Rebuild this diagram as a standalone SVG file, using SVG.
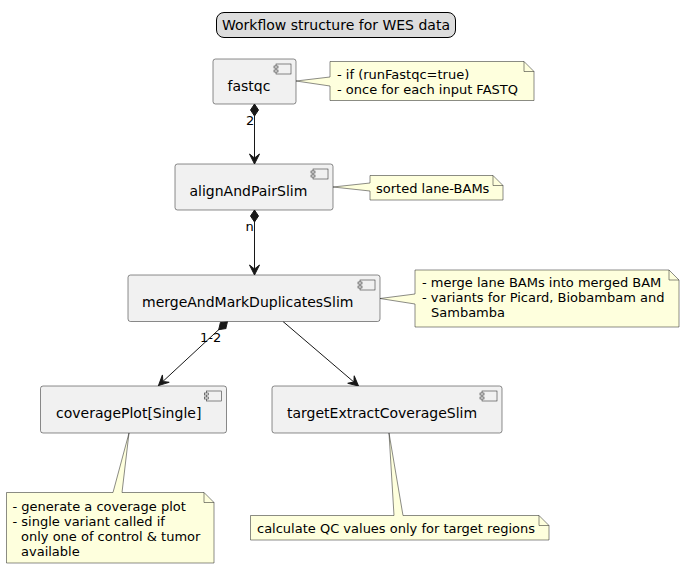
<svg xmlns="http://www.w3.org/2000/svg" width="685" height="569" viewBox="0 0 685 569">
<style>
  text { font-family: "DejaVu Sans", "Liberation Sans", sans-serif; fill: #000000; }
  .comp { fill: #F1F1F1; stroke: #181818; stroke-width: 0.5; }
  .icon { fill: #F1F1F1; stroke: #181818; stroke-width: 0.5; }
  .ct { font-size: 14px; }
  .note { fill: #FEFFDD; stroke: #181818; stroke-width: 0.5; }
  .fold { fill: none; stroke: #181818; stroke-width: 0.5; }
  .nt { font-size: 13px; }
  .lbl { font-size: 13px; }
  .edge { fill: none; stroke: #181818; stroke-width: 1; }
</style>
<defs>
  <marker id="arrow" markerUnits="userSpaceOnUse" markerWidth="12" markerHeight="12" refX="11" refY="6" orient="auto">
    <path d="M1,1 L11,6 L1,11 L5,6 Z" fill="#181818" stroke="#181818" stroke-width="1"/>
  </marker>
  <marker id="diamond" markerUnits="userSpaceOnUse" markerWidth="14" markerHeight="10" refX="0.5" refY="5" orient="auto">
    <path d="M0.5,5 L6.5,1 L12.5,5 L6.5,9 Z" fill="#181818" stroke="#181818" stroke-width="1"/>
  </marker>
</defs>
<rect width="685" height="569" fill="#FFFFFF"/>

<g id="title">
  <rect x="216.5" y="12.5" width="239" height="25" rx="7.5" ry="7.5" fill="#DDDDDD" stroke="#000000" stroke-width="1"/>
  <text x="336" y="30" class="ct" text-anchor="middle">Workflow structure for WES data</text>
</g>

<g id="connectors">
  <line class="edge" x1="254.5" y1="104" x2="254.5" y2="164" marker-start="url(#diamond)" marker-end="url(#arrow)"/>
  <text x="246" y="125" class="lbl">2</text>
  <line class="edge" x1="254.5" y1="210" x2="254.5" y2="275" marker-start="url(#diamond)" marker-end="url(#arrow)"/>
  <text x="245.5" y="231" class="lbl">n</text>
  <line class="edge" x1="227.5" y1="321.5" x2="158.5" y2="385.5" marker-start="url(#diamond)" marker-end="url(#arrow)"/>
  <text x="200" y="342" class="lbl">1-2</text>
  <line class="edge" x1="283" y1="321.5" x2="358.5" y2="386" marker-end="url(#arrow)"/>
</g>

<g id="fastqc">
  <rect class="comp" x="213" y="59" width="83" height="45" rx="2.5" ry="2.5"/>
  <rect class="icon" x="276" y="64" width="15" height="10"/>
  <rect class="icon" x="274" y="66" width="4" height="2"/>
  <rect class="icon" x="274" y="70" width="4" height="2"/>
  <text x="227.5" y="90.5" class="ct">fastqc</text>
</g>

<g id="note_fastqc">
  <path class="note" d="M330,61.5 L524,61.5 L534,71.5 L534,100.5 L330,100.5 L330,86 L296,81 L330,77 Z"/>
  <path class="fold" d="M524,61.5 L524,71.5 L534,71.5"/>
  <text x="337" y="78.5" class="nt">- if (runFastqc=true)</text>
  <text x="337" y="94" class="nt">- once for each input FASTQ</text>
</g>

<g id="alignAndPairSlim">
  <rect class="comp" x="175" y="164" width="158" height="46" rx="2.5" ry="2.5"/>
  <rect class="icon" x="313" y="169" width="15" height="10"/>
  <rect class="icon" x="311" y="171" width="4" height="2"/>
  <rect class="icon" x="311" y="175" width="4" height="2"/>
  <text x="189.5" y="195.5" class="ct">alignAndPairSlim</text>
</g>

<g id="note_align">
  <path class="note" d="M370,175.5 L493,175.5 L503,185.5 L503,200 L370,200 L370,191 L333,187 L370,183 Z"/>
  <path class="fold" d="M493,175.5 L493,185.5 L503,185.5"/>
  <text x="376" y="192.5" class="nt">sorted lane-BAMs</text>
</g>

<g id="mergeAndMarkDuplicatesSlim">
  <rect class="comp" x="128" y="275" width="252" height="46.5" rx="2.5" ry="2.5"/>
  <rect class="icon" x="360" y="280" width="15" height="10"/>
  <rect class="icon" x="358" y="282" width="4" height="2"/>
  <rect class="icon" x="358" y="286" width="4" height="2"/>
  <text x="142" y="306.5" class="ct">mergeAndMarkDuplicatesSlim</text>
</g>

<g id="note_merge">
  <path class="note" d="M415,270 L669,270 L679,280 L679,327 L415,327 L415,304 L380,298.5 L415,294 Z"/>
  <path class="fold" d="M669,270 L669,280 L679,280"/>
  <text x="422" y="287" class="nt">- merge lane BAMs into merged BAM</text>
  <text x="422" y="302" class="nt">- variants for Picard, Biobambam and</text>
  <text x="431" y="317" class="nt">Sambamba</text>
</g>

<g id="coveragePlotSingle">
  <rect class="comp" x="40.5" y="386" width="186" height="47" rx="2.5" ry="2.5"/>
  <rect class="icon" x="206.5" y="391" width="15" height="10"/>
  <rect class="icon" x="204.5" y="393" width="4" height="2"/>
  <rect class="icon" x="204.5" y="397" width="4" height="2"/>
  <text x="56" y="417.5" class="ct">coveragePlot[Single]</text>
</g>

<g id="note_coverage">
  <path class="note" d="M6.5,492.5 L113,492.5 L129,433 L122,492.5 L204,492.5 L214,502.5 L214,563 L6.5,563 Z"/>
  <path class="fold" d="M204,492.5 L204,502.5 L214,502.5"/>
  <text x="12.5" y="510.5" class="nt">- generate a coverage plot</text>
  <text x="12.5" y="525.5" class="nt">- single variant called if</text>
  <text x="21" y="540.5" class="nt">only one of control &amp; tumor</text>
  <text x="21" y="555.5" class="nt">available</text>
</g>

<g id="targetExtractCoverageSlim">
  <rect class="comp" x="272" y="386" width="230" height="47" rx="2.5" ry="2.5"/>
  <rect class="icon" x="482" y="391" width="15" height="10"/>
  <rect class="icon" x="480" y="393" width="4" height="2"/>
  <rect class="icon" x="480" y="397" width="4" height="2"/>
  <text x="287" y="417.5" class="ct">targetExtractCoverageSlim</text>
</g>

<g id="note_target">
  <path class="note" d="M250.5,515.5 L394,515.5 L389,433 L403,515.5 L539,515.5 L549,525.5 L549,540 L250.5,540 Z"/>
  <path class="fold" d="M539,515.5 L539,525.5 L549,525.5"/>
  <text x="257" y="532.5" class="nt">calculate QC values only for target regions</text>
</g>
</svg>
